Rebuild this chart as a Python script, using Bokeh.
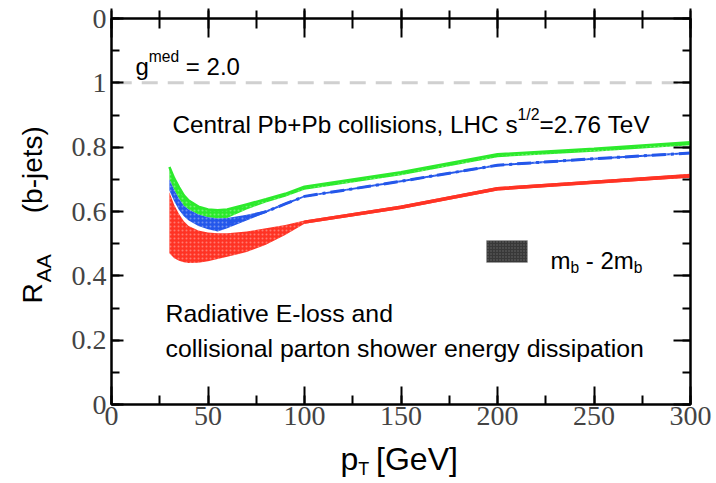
import math
from bokeh.plotting import figure
from bokeh.models import Range1d, LinearAxis, FixedTicker, Label, BoxAnnotation, CustomJSTickFormatter
from bokeh.embed import file_html
from bokeh.resources import INLINE

# ---------------- data ----------------
PT = [30, 32.5, 35, 37.5, 40, 45, 50, 55, 60, 70, 80, 90, 100, 150, 200, 250, 300]
RED_LO = [0.470, 0.455, 0.447, 0.442, 0.440, 0.441, 0.445, 0.452, 0.459, 0.474, 0.497, 0.527, 0.562, 0.608, 0.665, 0.686, 0.705]
RED_HI = [0.660, 0.620, 0.592, 0.570, 0.555, 0.541, 0.535, 0.532, 0.532, 0.538, 0.548, 0.558, 0.572, 0.619, 0.676, 0.696, 0.717]
GREEN_LO = [0.700, 0.667, 0.640, 0.618, 0.606, 0.591, 0.582, 0.578, 0.580, 0.606, 0.628, 0.646, 0.668, 0.713, 0.769, 0.786, 0.806]
GREEN_HI = [0.738, 0.703, 0.675, 0.650, 0.634, 0.615, 0.606, 0.604, 0.606, 0.622, 0.638, 0.655, 0.677, 0.722, 0.778, 0.795, 0.815]
BLUE_LO = [0.665, 0.632, 0.605, 0.585, 0.572, 0.555, 0.545, 0.538, 0.548, 0.572, 0.596, 0.620, 0.644, 0.691, 0.741, 0.761, 0.779]
BLUE_HI = [0.700, 0.667, 0.640, 0.618, 0.606, 0.591, 0.582, 0.578, 0.580, 0.590, 0.603, 0.627, 0.650, 0.697, 0.747, 0.767, 0.785]
REF_LINE = 1.0

X_TICKS = [0, 50, 100, 150, 200, 250, 300]
X_TICK_LABELS = ["0", "50", "100", "150", "200", "250", "300"]
Y_TICKS = [0, 0.2, 0.4, 0.6, 0.8, 1.0, 1.2]
Y_TICK_LABELS = ["0", "0.2", "0.4", "0.6", "0.8", "1", "0"]

# ---------------- layout ----------------
W, H = 712, 480
BL, BT = 111, 18
FW, FH = 579, 386
BR = W - BL - FW
BB = H - BT - FH
XMAX, YMAX = 300, 1.2
PXX = FW / XMAX      # px per GeV
PXY = FH / YMAX      # px per unit R
X0PX, Y0PX = BL, BT + FH   # canvas px of data origin


def dx(px):
    return (px - X0PX) / PXX


def dy(py):
    return (Y0PX - py) / PXY


SANS = "Liberation Sans"
SERIF = "Liberation Serif"
NB = "\u00a0"

p = figure(width=W, height=H, x_range=Range1d(0, XMAX), y_range=Range1d(0, YMAX),
           output_backend="svg", toolbar_location=None,
           min_border_left=BL, min_border_right=BR, min_border_top=BT, min_border_bottom=BB,
           x_axis_location=None, y_axis_location=None)
p.xgrid.visible = False
p.ygrid.visible = False
p.outline_line_color = "black"
p.outline_line_width = 2
p.background_fill_color = "white"
p.border_fill_color = "white"

blank = CustomJSTickFormatter(code="return ''")


def style_axis(ax, major_in, minor_in, major_out=0, minor_out=0, labels=True):
    ax.axis_line_color = "black"
    ax.axis_line_width = 2
    ax.major_tick_line_width = 2
    ax.minor_tick_line_width = 2
    ax.major_tick_in = major_in
    ax.major_tick_out = major_out
    ax.minor_tick_in = minor_in
    ax.minor_tick_out = minor_out
    if not labels:
        ax.formatter = blank
        ax.major_label_standoff = 0
        ax.major_label_text_font_size = "1px"


xt = FixedTicker(ticks=X_TICKS, minor_ticks=list(range(0, 301, 25)))
yt = FixedTicker(ticks=Y_TICKS, minor_ticks=[i / 10 for i in range(13)])

bottom = LinearAxis(ticker=xt)
style_axis(bottom, 18, 9)
bottom.major_label_overrides = {t: s for t, s in zip(X_TICKS, X_TICK_LABELS)}
bottom.major_label_text_font = SERIF
bottom.major_label_text_font_size = "28px"
bottom.major_label_standoff = 2
p.add_layout(bottom, "below")

left = LinearAxis(ticker=yt)
style_axis(left, 12, 8)
left.major_label_overrides = {t: s for t, s in zip(Y_TICKS, Y_TICK_LABELS)}
left.major_label_text_font = SERIF
left.major_label_text_font_size = "28px"
left.major_label_standoff = 5
p.add_layout(left, "left")

top = LinearAxis(ticker=xt)
style_axis(top, 19, 10, 10, 8, labels=False)
p.add_layout(top, "above")

right = LinearAxis(ticker=yt)
style_axis(right, 17, 8, labels=False)
p.add_layout(right, "right")

# ---------------- reference line ----------------
p.line([2.2, 297.5], [REF_LINE, REF_LINE], line_color="#d0d0d0", line_width=3, line_dash="16 10")

# ---------------- bands ----------------
RED = "#ff3324"
GREEN = "#2cea2c"
BLUE = "#2457ea"
common = dict(hatch_pattern="dot", hatch_color="white", hatch_alpha=0.35, hatch_scale=4)
p.varea(x=PT, y1=RED_LO, y2=RED_HI, fill_color=RED, **common)
p.line(PT[12:], [(a + b) / 2 for a, b in zip(RED_LO[12:], RED_HI[12:])], line_color=RED, line_width=3.5)
p.varea(x=PT, y1=GREEN_LO, y2=GREEN_HI, fill_color=GREEN, **common)
p.line(PT, GREEN_HI, line_color=GREEN, line_width=2.5)
p.varea(x=PT, y1=BLUE_LO, y2=BLUE_HI, fill_color=BLUE, **common)
p.line(PT[8:], [(a + b) / 2 for a, b in zip(BLUE_LO[8:], BLUE_HI[8:])], line_color=BLUE,
       line_width=3, line_dash="14 5 3 5")

# ---------------- legend swatch ----------------
p.add_layout(BoxAnnotation(left=dx(486), right=dx(527), bottom=dy(262), top=dy(240),
                           fill_color="#383838", fill_alpha=1, line_color="#9a9a9a", line_width=1,
                           hatch_pattern="dot", hatch_color="white", hatch_alpha=0.25, hatch_scale=3))


# ---------------- rich text helper ----------------
W_TAB = {' ': 278, NB: 278, '(': 333, ')': 333, '-': 333, '.': 278, '/': 278, '=': 584, '+': 584,
         '[': 278, ']': 278, ',': 278, 'A': 667, 'C': 722, 'E': 722, 'G': 778, 'H': 722, 'L': 556,
         'P': 667, 'R': 722, 'T': 611, 'V': 667, 'a': 556, 'b': 556, 'c': 500, 'd': 556, 'e': 556,
         'f': 278, 'g': 556, 'h': 556, 'i': 222, 'j': 222, 'k': 500, 'l': 222, 'm': 833, 'n': 556,
         'o': 556, 'p': 556, 'r': 333, 's': 500, 't': 278, 'u': 556, 'v': 500, 'w': 722, 'x': 500,
         'y': 500, 'z': 500}


def twidth(s, size):
    return sum(W_TAB.get(c, 556) for c in s) / 1000.0 * size


def mk_label(x, y, text, fs, angle=0.0, baseline="alphabetic"):
    return Label(x=x, y=y, text=text.replace(" ", NB), angle=angle, text_font=SANS,
                 text_font_size=f"{fs:.1f}px", text_align="left",
                 text_baseline=baseline, text_color="black")


def rich(px, py, parts, size):
    """Inside-frame text at canvas px (left, baseline); parts: (text, scale, shift_px up)."""
    adv = 0.0
    for text, sc, shift in parts:
        fs = size * sc
        p.add_layout(mk_label(dx(px + adv), dy(py - shift), text, fs))
        adv += twidth(text.replace(" ", NB), fs)


SUP = 0.65
rich(135, 66, [("g", 1, 0), ("med", SUP, 10), (" = 2.0", 1, 0)], 24)
rich(172, 124, [("Central Pb+Pb collisions, LHC s", 1, 0), ("1/2", SUP, 10), ("=2.76 TeV", 1, 0)], 24.3)
rich(165, 313, [("Radiative E-loss and", 1, 0)], 24.8)
rich(165, 348, [("collisional parton shower energy dissipation", 1, 0)], 24.8)
rich(550, 260, [("m", 1, 0), ("b", SUP, -7), (" - 2m", 1, 0), ("b", SUP, -7)], 24)

# ---------------- axis titles (in side panels so they are not clipped) ----------------
# positions given as the middle of the em box (baseline - 0.31 em)
MID = 0.31
XT_FS = 32
xb_px, xb_py = 340, 468                     # left / baseline of "p  [GeV]"
p.add_layout(mk_label(dx(xb_px), dy(xb_py - MID * XT_FS), "p" + NB + NB + "[GeV]", XT_FS,
                      baseline="middle"), "below")
T_FS = XT_FS * 0.56
p.add_layout(mk_label(dx(xb_px + twidth("p", XT_FS)), dy(474.5 - MID * T_FS), "T", T_FS,
                      baseline="middle"), "right")

YT_FS = 28
yb_px, yb_py = 40.5, 303                    # baseline x / start y of rotated title
p.add_layout(mk_label(dx(yb_px - MID * YT_FS), dy(yb_py), "R" + NB * 9 + "(b-jets)", YT_FS,
                      math.pi / 2, baseline="middle"), "left")
AA_FS = YT_FS * 0.75
p.add_layout(mk_label(dx(yb_px + 9 - MID * AA_FS), dy(yb_py - twidth("R", YT_FS) - 1), "AA", AA_FS,
                      math.pi / 2, baseline="middle"), "left")

open("out.html", "w").write(file_html(p, INLINE))
